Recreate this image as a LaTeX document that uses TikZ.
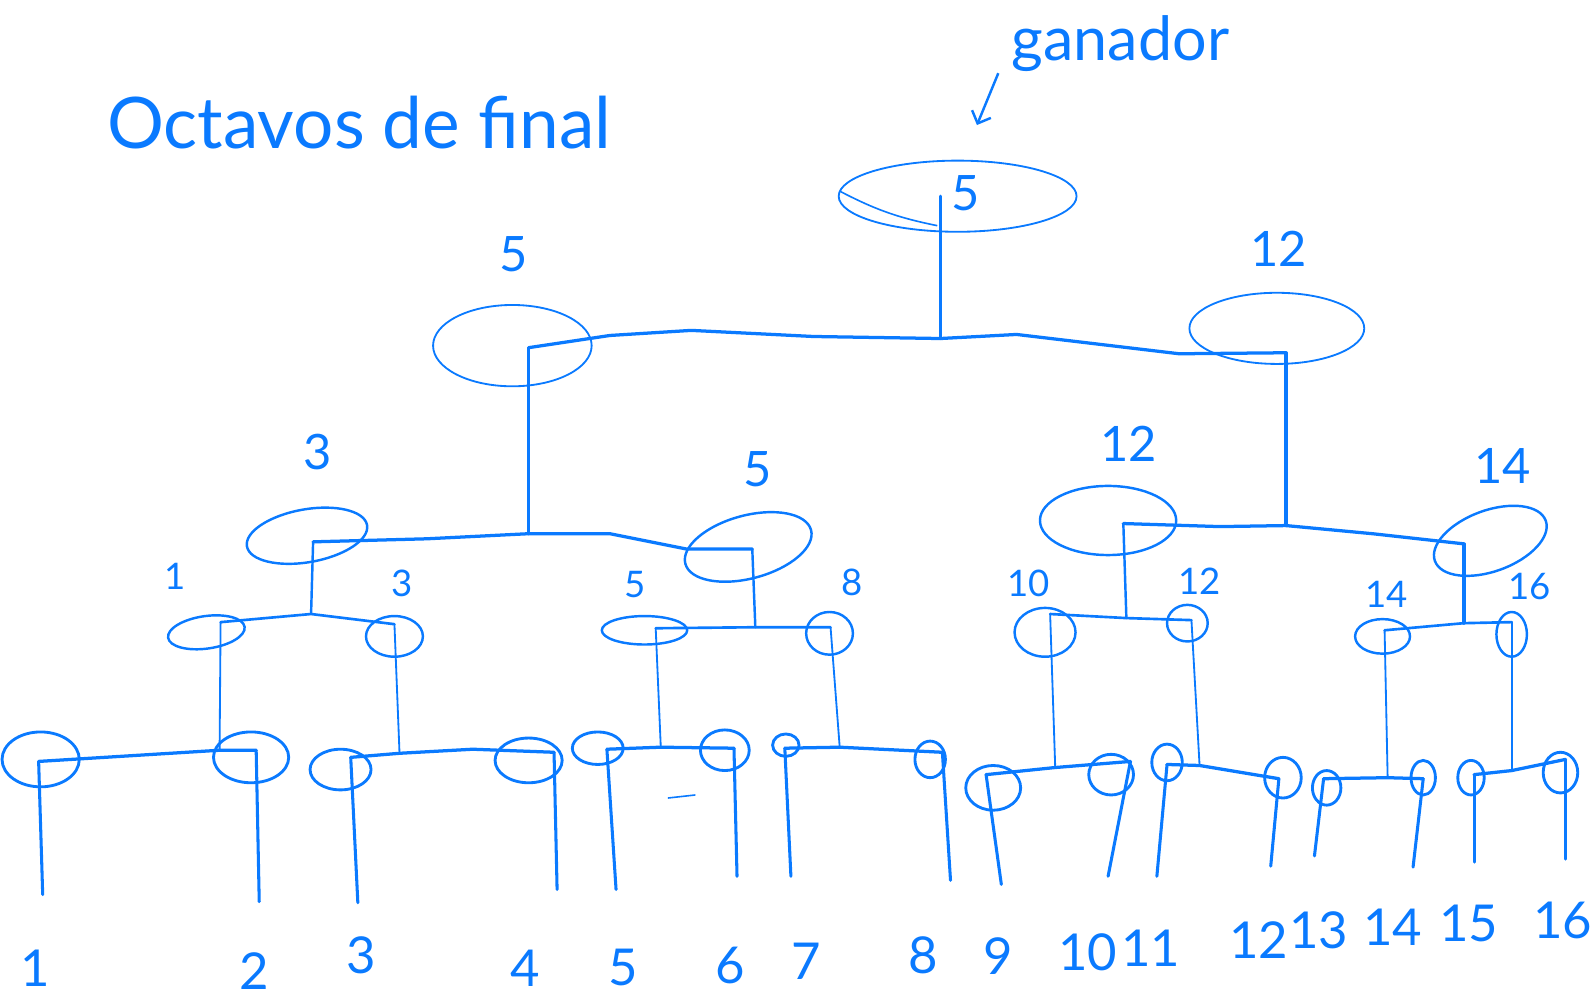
\documentclass[tikz,border=0pt]{standalone}
\usepackage{fontspec}
\setmainfont{Lato}
\usetikzlibrary{shapes.geometric,arrows.meta}
\definecolor{pen}{RGB}{10,122,255}
\begin{document}
\begin{tikzpicture}[x=0.5pt,y=-0.5pt,
  ov/.style={ellipse,draw=pen,line width=1.2pt,inner sep=0pt},
  wire/.style={draw=pen,line width=1.6pt,line cap=round,line join=round},
  stem/.style={draw=pen,line width=1.2pt,line cap=round},
  lab/.style={text=pen,inner sep=0pt},
  big/.style={lab,font=\fontsize{25}{25}\selectfont},
  mid/.style={lab,font=\fontsize{24}{24}\selectfont},
  sml/.style={lab,font=\fontsize{18}{18}\selectfont}]
\useasboundingbox (0,0) rectangle (1568,984);

% titles
\node[lab,anchor=base west,font=\fontsize{35}{35}\selectfont] (title) at (105,146) {Octavos de final};
\node[lab,anchor=base west,font=\fontsize{30}{30}\selectfont] (gan) at (995,60) {ganador};
\coordinate (ga1) at (982,72);
\coordinate (ga2) at (961,123);
\draw[pen,line width=1.2pt,-{Straight Barb[length=5pt]}] (ga1) -- (ga2);

% final
\node[ov,line width=0.9pt,minimum width=117pt,minimum height=35pt] (f) at (942,193) {};
\node[mid] (lf) at (950,190) {5};
\coordinate (fx1) at (826,188);
\coordinate (fx2) at (922,222);
\draw[pen,line width=0.8pt] (fx1) to[bend right=8] (fx2);

% semifinals
\node[ov,line width=0.9pt,minimum width=78pt,minimum height=40pt] (s1) at (504,340) {};
\node[ov,line width=0.9pt,minimum width=86pt,minimum height=35pt] (s2) at (1256,323) {};
\node[mid] (ls1) at (505,250) {5};
\node[mid] (ls2) at (1258,245) {12};

% quarterfinals
\node[ov,minimum width=60pt,minimum height=26pt,rotate=10] (q1) at (302,527) {};
\node[ov,minimum width=64pt,minimum height=31pt,rotate=15] (q2) at (736,538) {};
\node[ov,minimum width=67pt,minimum height=34pt] (q3) at (1090,512) {};
\node[ov,minimum width=58pt,minimum height=30pt,rotate=20] (q4) at (1466,532) {};
\node[mid] (lq1) at (312,445) {3};
\node[mid] (lq2) at (745,462) {5};
\node[mid] (lq3) at (1110,437) {12};
\node[mid] (lq4) at (1478,458) {14};

% round of 16 winners
\foreach \n/\x/\y/\rx/\ry/\r in {1/203/622/38/16/8, 2/388/626/28/20/0, 3/634/620/42/14/0,
  4/816/623/23/21/0, 5/1028/622/30/24/0, 6/1168/613/20/18/0, 7/1360/626/27/17/0, 8/1487/624/15/22/0}
  \node[ov,minimum width=\rx pt,minimum height=\ry pt,rotate=\r] (r\n) at (\x,\y) {};
\foreach \n/\x/\y/\t in {1/172/567/1, 2/396/574/3, 3/625/575/5, 4/838/573/8,
  5/1012/574/10, 6/1180/572/12, 7/1364/585/14, 8/1505/577/16}
  \node[sml] (lr\n) at (\x,\y) {\t};

% players
\foreach \n/\x/\y/\rx/\ry in {1/40/747/38/27, 2/247/745/37/25, 3/335/757/30/20, 4/520/748/33/22,
  5/588/736/25/16, 6/713/738/24/20, 7/773/733/13/11, 8/915/747/15/18,
  9/977/775/27/22, 10/1093/762/22/20, 11/1148/750/15/18, 12/1262/765/18/20,
  13/1305/775/14/17, 14/1400/765/12/17, 15/1447/765/13/17, 16/1535/760/17/20}
  \node[ov,line width=1.4pt,minimum width=\rx pt,minimum height=\ry pt] (b\n) at (\x,\y) {};
\foreach \n/\x/\y in {1/35/952, 2/250/955, 3/355/940, 4/517/952, 5/613/952, 6/718/950,
  7/793/946, 8/908/940, 9/982/940, 10/1070/937, 11/1132/933, 12/1238/925,
  13/1297/915, 14/1370/912, 15/1445/908, 16/1537/905}
  \node[big] (n\n) at (\x,\y) {\n};

% stem tops and junctions
\coordinate (jf) at (925,333);
\coordinate (s1t) at (520,342);
\coordinate (s2t) at (1265,347);
\coordinate (jq12) at (520,525);
\coordinate (jq34) at (1265,517);
\coordinate (q1t) at (308,533);
\coordinate (q2t) at (740,540);
\coordinate (q3t) at (1105,515);
\coordinate (q4t) at (1440,535);
\coordinate (jr12) at (306,604);
\coordinate (jr34) at (743,617);
\coordinate (jr56) at (1108,608);
\coordinate (jr78) at (1440,613);
\foreach \n/\x/\y in {1/217/612, 2/388/614, 3/645/618, 4/817/617, 5/1033/604, 6/1172/610, 7/1362/620, 8/1487/612}
  \coordinate (r\n t) at (\x,\y);
\foreach \n/\x/\y in {12/216/738, 34/393/741, 56/650/735, 78/826/735, 910/1038/755, 1112/1180/753, 1314/1365/765, 1516/1487/758}
  \coordinate (jb\n) at (\x,\y);
\foreach \n/\x/\y/\ex/\ey in {1/38/749/42/880, 2/252/738/255/887, 3/345/745/352/888, 4/545/740/548/875,
  5/597/737/606/875, 6/722/736/725/862, 7/772/736/778/862, 8/927/740/935/866,
  9/970/762/985/870, 10/1112/749/1090/862, 11/1148/752/1138/862, 12/1258/766/1250/852,
  13/1302/766/1293/842, 14/1400/766/1390/853, 15/1450/762/1450/848, 16/1540/747/1540/845}
  {\coordinate (b\n t) at (\x,\y); \coordinate (e\n) at (\ex,\ey);}

% final connectors
\draw[wire] (jf) -- (jf |- f.center);
\draw[wire] (s1t) -- (600,330) -- (680,325) -- (800,331) -- (jf);
\draw[wire] (jf) -- (1000,329) -- (1160,348) -- (s2t);
% semifinal connectors
\draw[wire] (s1t) -- (jq12);
\draw[wire] (s2t) -- (jq34);
\draw[wire] (q1t) -- (420,530) -- (jq12) -- (600,525) -- (675,540) -- (q2t);
\draw[wire] (q3t) -- (1200,518) -- (jq34) -- (1350,525) -- (q4t);
% quarterfinal connectors
\draw[stem] (q1t) -- (jr12);
\draw[stem] (q2t) -- (jr34);
\draw[stem] (q3t) -- (jr56);
\draw[stem,line width=1.6pt] (q4t) -- (jr78);
\draw[wire,line width=1.3pt] (r1t) -- (jr12) -- (r2t);
\draw[wire,line width=1.3pt] (r3t) -- (jr34) -- (r4t);
\draw[wire,line width=1.3pt] (r5t) -- (jr56) -- (r6t);
\draw[wire,line width=1.3pt] (r7t) -- (jr78) -- (r8t);
% round of 16 connectors
\draw[stem,line width=0.9pt] (r1t) -- (jb12);
\draw[stem,line width=0.9pt] (r2t) -- (jb34);
\draw[stem,line width=0.9pt] (r3t) -- (jb56);
\draw[stem,line width=0.9pt] (r4t) -- (jb78);
\draw[stem,line width=0.9pt] (r5t) -- (jb910);
\draw[stem,line width=0.9pt] (r6t) -- (jb1112);
\draw[stem,line width=0.9pt] (r7t) -- (jb1314);
\draw[stem,line width=0.9pt] (r8t) -- (jb1516);
\draw[wire] (b1t) -- (jb12) -- (b2t);
\draw[wire] (b3t) -- (jb34) -- (465,737) -- (b4t);
\draw[wire] (b5t) -- (jb56) -- (b6t);
\draw[wire] (b7t) -- (jb78) -- (b8t);
\draw[wire] (b9t) -- (jb910) -- (b10t);
\draw[wire] (b11t) -- (jb1112) -- (b12t);
\draw[wire] (b13t) -- (jb1314) -- (b14t);
\draw[wire] (b15t) -- (jb1516) -- (b16t);
\foreach \n in {1,...,16} \draw[stem,line width=1.5pt] (b\n t) -- (e\n);

% stray mark
\coordinate (dm1) at (657,785);
\coordinate (dm2) at (684,782);
\draw[pen,line width=0.8pt] (dm1) -- (dm2);
\end{tikzpicture}
\end{document}
